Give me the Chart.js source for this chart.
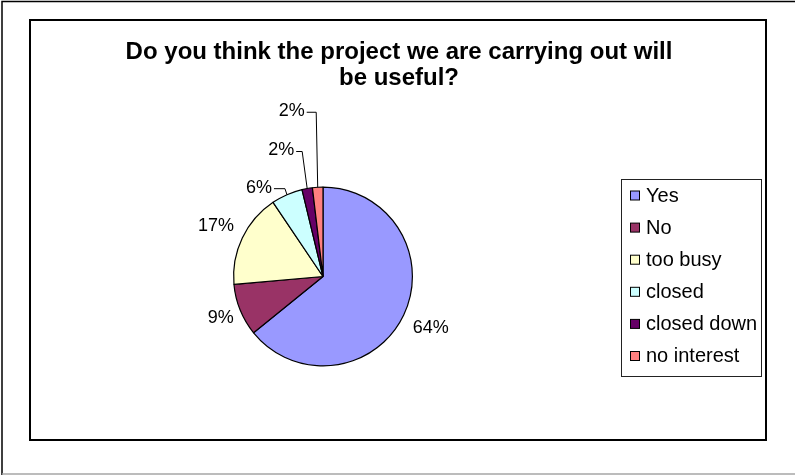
<!DOCTYPE html>
<html>
<head>
<meta charset="utf-8">
<script src="https://cdn.jsdelivr.net/npm/chart.js@4"></script>
<style>
  html, body { margin: 0; padding: 0; background: #fff; }
  #wrap { width: 795px; height: 475px; }
</style>
</head>
<body>
<div id="wrap"><canvas id="pie-chart" width="795" height="475"></canvas></div>
<script>
// Survey answers
const answers = ['Yes', 'No', 'too busy', 'closed', 'closed down', 'no interest'];
const responses = [34, 5, 9, 3, 1, 1];
const sliceColors = ['#9999FF', '#993366', '#FFFFCC', '#CCFFFF', '#660066', '#FF8080'];
const titleLines = ['Do you think the project we are carrying out will', 'be useful?'];

const FONT = '"Liberation Sans", Arial, Helvetica, sans-serif';

// where each percentage goes: radial distance past the rim, or an offset with a leader line
const labelPlacement = [
    { radial: 30 },
    { radial: 21 },
    { radial: 29 },
    { dx: -28, dy: -7, kink: 2 },
    { dx: -26, dy: -38, kink: 5 },
    { dx: -26, dy: -76, kink: 1.5 }
];

// Frames, title, legend and percentage labels
const excelLook = {
    id: 'excelLook',
    beforeDraw(chart) {
        const ctx = chart.ctx;
        ctx.save();
        ctx.fillStyle = '#fff';
        ctx.fillRect(0, 0, chart.width, chart.height);

        // outer sheet edges
        ctx.strokeStyle = '#000';
        ctx.lineWidth = 1.5;
        ctx.beginPath();
        ctx.moveTo(2, chart.height);
        ctx.lineTo(2, 1.5);
        ctx.lineTo(chart.width, 1.5);
        ctx.stroke();
        ctx.strokeStyle = '#a6a6a6';
        ctx.beginPath();
        ctx.moveTo(2, 474);
        ctx.lineTo(chart.width, 474);
        ctx.stroke();

        // chart area box
        ctx.strokeStyle = '#000';
        ctx.lineWidth = 2;
        ctx.strokeRect(30, 20, 736, 420);
        ctx.restore();
    },
    afterDraw(chart) {
        const ctx = chart.ctx;
        ctx.save();

        // title
        ctx.fillStyle = '#000';
        ctx.textAlign = 'center';
        ctx.textBaseline = 'alphabetic';
        ctx.font = 'bold 24px ' + FONT;
        ctx.fillText(titleLines[0], 399, 59);
        ctx.fillText(titleLines[1], 399, 85);

        // percentage labels
        const total = responses.reduce((a, b) => a + b, 0);
        const meta = chart.getDatasetMeta(0);
        ctx.font = '18px ' + FONT;
        ctx.textBaseline = 'middle';
        meta.data.forEach((arc, i) => {
            const p = arc.getProps(['x', 'y', 'startAngle', 'endAngle', 'outerRadius'], true);
            const mid = (p.startAngle + p.endAngle) / 2;
            const text = Math.round(responses[i] / total * 100) + '%';
            const place = labelPlacement[i];
            const ax = p.x + Math.cos(mid) * p.outerRadius;
            const ay = p.y + Math.sin(mid) * p.outerRadius;
            let lx, ly;
            if (place.radial !== undefined) {
                lx = p.x + Math.cos(mid) * (p.outerRadius + place.radial);
                ly = p.y + Math.sin(mid) * (p.outerRadius + place.radial);
            } else {
                lx = ax + place.dx;
                ly = ay + place.dy;
                const w = ctx.measureText(text).width;
                ctx.strokeStyle = '#000';
                ctx.lineWidth = 1;
                ctx.beginPath();
                ctx.moveTo(lx + w / 2 + 2, ly + 1);
                ctx.lineTo(ax - place.kink, ly + 1);
                ctx.lineTo(ax, ay);
                ctx.stroke();
            }
            ctx.textAlign = 'center';
            ctx.fillText(text, lx, ly);
        });

        // legend
        ctx.strokeStyle = '#222';
        ctx.lineWidth = 1;
        ctx.strokeRect(621.5, 179.5, 140, 197);
        ctx.font = '20px ' + FONT;
        ctx.textAlign = 'left';
        answers.forEach((name, i) => {
            const cy = 196 + i * 32.1;
            ctx.fillStyle = sliceColors[i];
            ctx.fillRect(630.5, cy - 5, 9, 9);
            ctx.strokeStyle = '#000';
            ctx.strokeRect(630.5, cy - 5, 9, 9);
            ctx.fillStyle = '#000';
            ctx.fillText(name, 646, cy);
        });
        ctx.restore();
    }
};

const ctxPie = document.getElementById('pie-chart').getContext('2d');
const pieChart = new Chart(ctxPie, {
    type: 'pie',
    data: {
        labels: answers,
        datasets: [{
            data: responses,
            backgroundColor: sliceColors,
            borderColor: '#000',
            borderWidth: 1.2
        }]
    },
    options: {
        responsive: false,
        animation: false,
        layout: {
            padding: { left: 233, right: 382, top: 186, bottom: 108 }
        },
        plugins: {
            legend: { display: false },
            tooltip: { enabled: false }
        }
    },
    plugins: [excelLook]
});
</script>
</body>
</html>
